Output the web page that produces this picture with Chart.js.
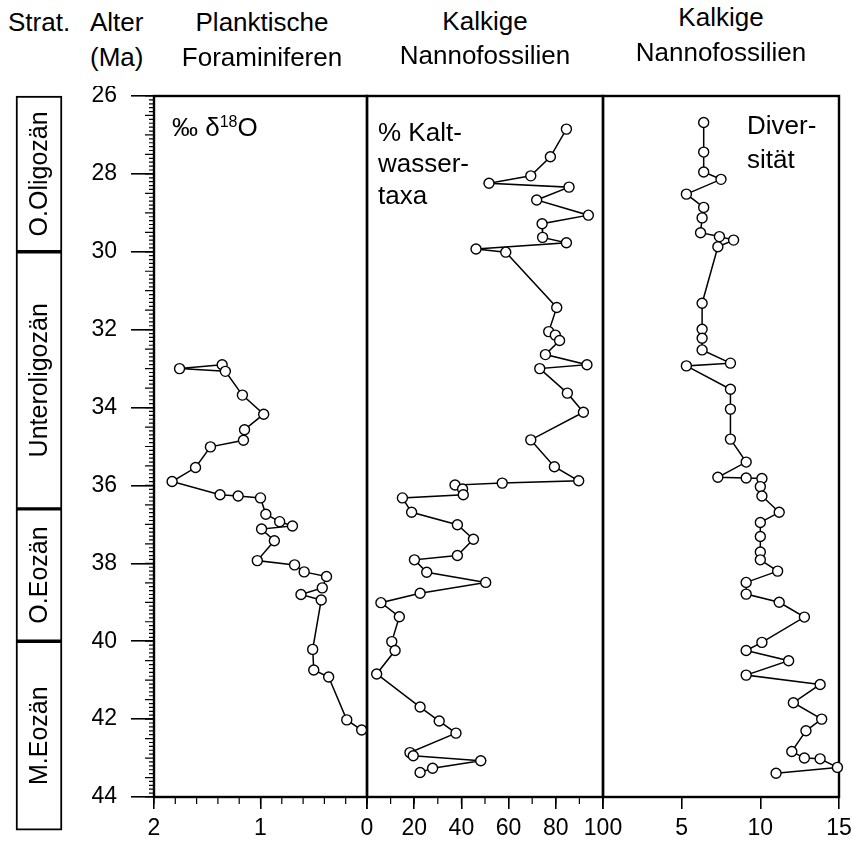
<!DOCTYPE html>
<html>
<head>
<meta charset="utf-8">
<script src="https://cdn.jsdelivr.net/npm/chart.js@4.4.1/dist/chart.umd.min.js"></script>
<style>
  body { margin: 0; background: #fff; }
  #page { position: relative; width: 854px; height: 856px; font-family: 'Liberation Sans', Arial, sans-serif; color: #000; overflow: hidden; }
  canvas { position: absolute; }
  .t { position: absolute; font-size: 26px; line-height: 1; white-space: nowrap; }
  .c { transform: translate(-50%, -50%); }
  .l { transform: translateY(-50%); }
  sup { font-size: 16px; vertical-align: 9px; line-height: 0; }
</style>
</head>
<body>
<div id="page">
  <canvas id="strat" width="80" height="764" style="left:0;top:86px"></canvas>
  <canvas id="chart1" width="320" height="764" style="left:60px;top:86px"></canvas>
  <canvas id="chart2" width="280" height="764" style="left:345px;top:86px"></canvas>
  <canvas id="chart3" width="271" height="764" style="left:583px;top:86px"></canvas>

  <div class="t l" style="left:8px;top:22px">Strat.</div>
  <div class="t l" style="left:90px;top:22px">Alter</div>
  <div class="t l" style="left:90px;top:57px">(Ma)</div>
  <div class="t c" style="left:262px;top:22px">Planktische</div>
  <div class="t c" style="left:262px;top:57px">Foraminiferen</div>
  <div class="t c" style="left:485px;top:21px">Kalkige</div>
  <div class="t c" style="left:485px;top:55px">Nannofossilien</div>
  <div class="t c" style="left:721px;top:17px">Kalkige</div>
  <div class="t c" style="left:721px;top:52px">Nannofossilien</div>

  <div class="t l" style="left:172px;top:127px">‰ δ<sup>18</sup>O</div>
  <div class="t l" style="left:378px;top:132px">% Kalt-</div>
  <div class="t l" style="left:378px;top:163px">wasser-</div>
  <div class="t l" style="left:378px;top:195px">taxa</div>
  <div class="t l" style="left:747px;top:125px">Diver-</div>
  <div class="t l" style="left:747px;top:159px">sität</div>
</div>

<script>
Chart.defaults.font.family = "'Liberation Sans', Arial, sans-serif"
Chart.defaults.color = '#000'
Chart.defaults.animation = false

// stratigraphy (Ma)
const stages = ['O.Oligozän', 'Unteroligozän', 'O.Eozän', 'M.Eozän']
const stageTop = [26, 30, 36.6, 40]
const stageBase = [30, 36.6, 40, 44.85]

// planktische Foraminiferen, delta 18O (permil)
const d18Age = [32.9, 33.0, 33.07, 33.68, 34.17, 34.57, 34.84, 35.01, 35.54, 35.9,
    36.24, 36.27, 36.32, 36.74, 36.93, 37.04, 37.12, 37.42, 37.93, 38.04,
    38.22, 38.34, 38.63, 38.8, 38.94, 40.21, 40.74, 40.92, 42.02, 42.28]
const d18Val = [1.36, 1.76, 1.33, 1.17, 0.97, 1.15, 1.16, 1.47, 1.61, 1.83,
    1.38, 1.21, 1.0, 0.95, 0.82, 0.70, 0.99, 0.87, 1.03, 0.68,
    0.59, 0.38, 0.42, 0.62, 0.43, 0.51, 0.50, 0.36, 0.19, 0.05]

// kalkige Nannofossilien, % Kaltwassertaxa
const coldAge = [26.85, 27.56, 28.05, 28.24, 28.34, 28.67, 29.06, 29.28, 29.63, 29.77,
    29.93, 30.01, 31.43, 32.05, 32.14, 32.28, 32.64, 32.9, 33.0, 33.63,
    34.12, 34.83, 35.52, 35.88, 35.94, 35.99, 36.09, 36.24, 36.32, 36.69,
    37.01, 37.38, 37.8, 37.91, 38.23, 38.49, 38.77, 39.01, 39.37, 40.01,
    40.24, 40.84, 41.69, 42.05, 42.36, 42.86, 42.94, 43.07, 43.26, 43.37]
const coldVal = [84.5, 77.7, 69.4, 51.7, 85.6, 71.9, 93.8, 74.2, 74.4, 84.5,
    46.2, 58.8, 80.4, 77.0, 79.8, 81.6, 75.6, 93.2, 73.2, 84.9,
    91.7, 69.4, 79.4, 89.7, 57.3, 37.3, 40.5, 40.8, 15.0, 18.9,
    38.3, 45.1, 38.3, 20.1, 25.3, 50.3, 22.5, 5.9, 13.7, 10.5,
    11.9, 4.1, 22.5, 30.6, 37.7, 18.2, 19.6, 48.2, 27.8, 22.5]

// kalkige Nannofossilien, Diversitaet
const divAge = [26.68, 27.44, 27.95, 28.14, 28.52, 28.86, 29.13, 29.51, 29.61, 29.7,
    29.87, 31.32, 31.99, 32.22, 32.52, 32.86, 32.93, 33.53, 34.04, 34.81,
    35.4, 35.79, 35.81, 35.82, 36.03, 36.27, 36.69, 36.95, 37.31, 37.71,
    37.91, 38.2, 38.49, 38.79, 39.0, 39.38, 40.03, 40.24, 40.5, 40.87,
    41.11, 41.58, 42.0, 42.3, 42.83, 43.0, 43.02, 43.24, 43.39]
const divVal = [6.4, 6.4, 6.4, 7.5, 5.3, 6.4, 6.3, 6.2, 7.4, 8.3,
    7.3, 6.3, 6.3, 6.3, 6.3, 8.1, 5.3, 8.1, 8.1, 8.1,
    9.1, 7.3, 9.1, 10.1, 10.0, 10.1, 11.2, 10.0, 10.0, 10.0,
    10.0, 11.1, 9.1, 9.1, 11.2, 12.8, 10.1, 9.1, 11.8, 9.1,
    13.8, 12.1, 13.9, 12.9, 12.0, 12.8, 13.8, 14.9, 11.0]


// box around each panel, drawn under the points
const frame = {
    id: 'frame',
    beforeDatasetsDraw(chart) {
        const a = chart.chartArea
        const ctx = chart.ctx
        ctx.save()
        ctx.strokeStyle = '#000'
        ctx.lineWidth = 2.4
        ctx.strokeRect(a.left, a.top, a.right - a.left, a.bottom - a.top)
        ctx.restore()
    }
}

// short ticks between the labelled ones
function minorTicks(t) {
    return {
        id: 'minorTicks',
        afterDraw(chart) {
            const a = chart.chartArea
            const ctx = chart.ctx
            ctx.save()
            ctx.strokeStyle = '#000'
            ctx.lineWidth = 1.2
            ctx.beginPath()
            if (t.xStep) {
                const s = chart.scales.x
                const n = Math.round((s.max - s.min) / t.xStep)
                for (let i = 0; i <= n; i++) {
                    const px = s.getPixelForValue(s.min + i * t.xStep)
                    ctx.moveTo(px, a.bottom)
                    ctx.lineTo(px, a.bottom + t.xLen)
                }
            }
            if (t.yStep) {
                const s = chart.scales.y
                const n = Math.round((s.max - s.min) / t.yStep)
                for (let i = 0; i <= n; i++) {
                    const py = s.getPixelForValue(s.min + i * t.yStep)
                    const len = i % 5 === 0 ? t.yLen2 : t.yLen
                    ctx.moveTo(a.left - len, py)
                    ctx.lineTo(a.left, py)
                }
            }
            ctx.stroke()
            ctx.restore()
        }
    }
}

// rotated names inside the strat boxes
const stageNames = {
    id: 'stageNames',
    afterDatasetsDraw(chart) {
        const ctx = chart.ctx
        ctx.save()
        ctx.fillStyle = '#000'
        ctx.font = "25px 'Liberation Sans', Arial, sans-serif"
        ctx.textAlign = 'center'
        ctx.textBaseline = 'middle'
        chart.data.datasets.forEach((ds, i) => {
            const bar = chart.getDatasetMeta(i).data[0]
            const { x, y, base } = bar.getProps(['x', 'y', 'base'], true)
            ctx.save()
            ctx.translate(x + 1, (y + base) / 2)
            ctx.rotate(-Math.PI / 2)
            ctx.fillText(ds.label, 0, 0)
            ctx.restore()
        })
        ctx.restore()
    }
}


const ageAxisHidden = { type: 'linear', min: 26, max: 44, reverse: true, display: false }

function lineSet(ages, values) {
    return {
        data: ages.map((a, i) => ({ x: values[i], y: a })),
        showLine: true,
        borderColor: '#000',
        borderWidth: 1.5,
        pointRadius: 5,
        pointBackgroundColor: '#fff',
        pointBorderColor: '#000',
        pointBorderWidth: 1.4,
        clip: false
    }
}

function valueAxis(min, max, step, reverse, hideZero) {
    return {
        type: 'linear',
        position: 'bottom',
        min, max, reverse,
        border: { display: false },
        grid: { drawOnChartArea: false, tickLength: 12, color: '#000', lineWidth: 1.6 },
        ticks: {
            stepSize: step,
            autoSkip: false,
            maxRotation: 0,
            padding: 6,
            font: { size: 23 },
            callback: v => (hideZero && v === 0) ? '' : v
        },
        afterFit: s => { s.height = 53; s.paddingLeft = 0; s.paddingRight = 0 }
    }
}


function stratChart() {
    const data = {
        labels: [''],
        datasets: stages.map((s, i) => ({
            label: s,
            data: [[stageTop[i], stageBase[i]]],
            backgroundColor: '#fff',
            borderColor: '#000',
            borderWidth: 2,
            borderSkipped: false,
            barPercentage: 1,
            categoryPercentage: 1,
            grouped: false,
            clip: false
        }))
    }
    const options = {
        responsive: false,
        layout: { padding: { left: 16, right: 18, top: 10, bottom: 53 } },
        plugins: { legend: { display: false }, tooltip: { enabled: false } },
        scales: {
            x: { display: false },
            y: ageAxisHidden
        }
    }
    new Chart('strat', { type: 'bar', data, options, plugins: [stageNames] })
}


function deltaChart() {
    const data = { datasets: [lineSet(d18Age, d18Val)] }
    const options = {
        responsive: false,
        layout: { padding: { left: 0, right: 13, top: 10, bottom: 0 } },
        plugins: { legend: { display: false }, tooltip: { enabled: false } },
        scales: {
            x: valueAxis(0, 2, 1, true, false),
            y: {
                type: 'linear',
                min: 26, max: 44, reverse: true,
                border: { display: false },
                grid: { drawOnChartArea: false, tickLength: 23, color: '#000', lineWidth: 1.6 },
                ticks: { stepSize: 2, padding: 14, font: { size: 23 } },
                afterFit: s => { s.width = 94; s.paddingTop = 0; s.paddingBottom = 0 }
            }
        }
    }
    const ticks = minorTicks({ xStep: 0.2, xLen: 7, yStep: 0.1, yLen: 5, yLen2: 9 })
    new Chart('chart1', { type: 'scatter', data, options, plugins: [frame, ticks] })
}


function coldChart() {
    const data = { datasets: [lineSet(coldAge, coldVal)] }
    const options = {
        responsive: false,
        layout: { padding: { left: 22, right: 22, top: 10, bottom: 0 } },
        plugins: { legend: { display: false }, tooltip: { enabled: false } },
        scales: {
            x: valueAxis(0, 100, 20, false, true),
            y: ageAxisHidden
        }
    }
    const ticks = minorTicks({ xStep: 10, xLen: 7 })
    new Chart('chart2', { type: 'scatter', data, options, plugins: [frame, ticks] })
}


function diversityChart() {
    const data = { datasets: [lineSet(divAge, divVal)] }
    const options = {
        responsive: false,
        layout: { padding: { left: 20, right: 15, top: 10, bottom: 0 } },
        plugins: { legend: { display: false }, tooltip: { enabled: false } },
        scales: {
            x: valueAxis(0, 15, 5, false, true),
            y: ageAxisHidden
        }
    }
    new Chart('chart3', { type: 'scatter', data, options, plugins: [frame] })
}


stratChart()
deltaChart()
coldChart()
diversityChart()
</script>
</body>
</html>
